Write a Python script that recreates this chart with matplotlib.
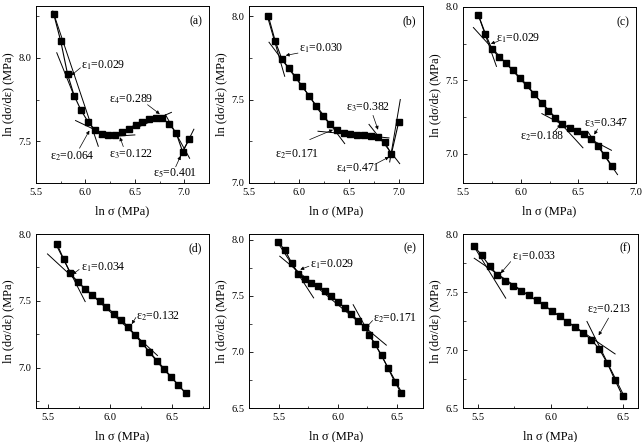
import numpy as np
import matplotlib
matplotlib.use('Agg')
import matplotlib.pyplot as plt
from matplotlib.ticker import MultipleLocator, AutoMinorLocator

plt.rcParams['font.family'] = ['Liberation Serif', 'DejaVu Serif']
plt.rcParams['mathtext.fontset'] = 'stix'

# ---- data ----
xa = [5.68, 5.75, 5.82, 5.886, 5.956, 6.027, 6.097, 6.164, 6.23, 6.30, 6.37, 6.436,
      6.507, 6.577, 6.644, 6.711, 6.779, 6.846, 6.916, 6.983, 7.05]
ya = [8.26, 8.10, 7.90, 7.773, 7.685, 7.616, 7.568, 7.542, 7.536, 7.538, 7.556, 7.576,
      7.60, 7.618, 7.633, 7.639, 7.637, 7.604, 7.552, 7.438, 7.512]

xb = [5.693, 5.763, 5.827, 5.897, 5.967, 6.033, 6.103, 6.17, 6.24, 6.31, 6.377, 6.447,
      6.513, 6.583, 6.65, 6.72, 6.787, 6.857, 6.923, 6.997]
yb = [8.00, 7.848, 7.745, 7.689, 7.635, 7.579, 7.521, 7.459, 7.401, 7.351, 7.319, 7.301,
      7.295, 7.289, 7.287, 7.281, 7.275, 7.245, 7.172, 7.365]

xc = [5.632, 5.695, 5.75, 5.81, 5.874, 5.934, 5.994, 6.057, 6.118, 6.181, 6.241, 6.302,
      6.362, 6.425, 6.486, 6.546, 6.609, 6.67, 6.73, 6.793]
yc = [7.948, 7.816, 7.714, 7.661, 7.618, 7.568, 7.518, 7.466, 7.407, 7.345, 7.293, 7.243,
      7.202, 7.177, 7.152, 7.132, 7.10, 7.055, 6.989, 6.914]

xd = [5.569, 5.623, 5.679, 5.739, 5.798, 5.854, 5.914, 5.97, 6.03, 6.089, 6.148, 6.205,
      6.261, 6.318, 6.377, 6.434, 6.493, 6.553, 6.612]
yd = [7.926, 7.814, 7.705, 7.641, 7.589, 7.545, 7.50, 7.455, 7.406, 7.356, 7.302, 7.245,
      7.183, 7.116, 7.05, 6.988, 6.931, 6.869, 6.812]

xe = [5.496, 5.555, 5.61, 5.667, 5.723, 5.776, 5.832, 5.888, 5.944, 6.003, 6.059, 6.115,
      6.171, 6.227, 6.26, 6.314, 6.37, 6.426, 6.482, 6.535]
ye = [7.979, 7.905, 7.792, 7.697, 7.653, 7.614, 7.585, 7.546, 7.501, 7.445, 7.392, 7.338,
      7.279, 7.223, 7.154, 7.071, 6.97, 6.852, 6.733, 6.635]

xf = [5.473, 5.527, 5.582, 5.636, 5.691, 5.743, 5.798, 5.85, 5.905, 5.957, 6.011, 6.064,
      6.116, 6.17, 6.225, 6.28, 6.334, 6.389, 6.443, 6.495]
yf = [7.90, 7.819, 7.725, 7.648, 7.599, 7.556, 7.51, 7.47, 7.427, 7.384, 7.338, 7.289,
      7.241, 7.195, 7.146, 7.089, 7.009, 6.888, 6.739, 6.602]

# fitted straight lines: (x0, y0, x1, y1)
lines_a = [(5.67, 8.28, 6.13, 7.47), (5.71, 8.03, 5.90, 7.75), (5.90, 7.624, 6.24, 7.528),
           (6.14, 7.524, 6.50, 7.538), (6.53, 7.584, 6.87, 7.673), (6.81, 7.659, 7.054, 7.398),
           (6.946, 7.392, 7.097, 7.572)]
lines_b = [(5.68, 8.006, 5.857, 7.639), (5.70, 7.843, 6.457, 7.236), (6.19, 7.31, 6.90, 7.27),
           (6.70, 7.351, 7.007, 7.116), (6.907, 7.126, 7.013, 7.50)]
lines_c = [(5.626, 7.959, 5.79, 7.595), (5.59, 7.86, 6.54, 7.04), (6.184, 7.273, 6.787, 7.023),
           (6.58, 7.152, 6.84, 6.857)]
lines_d = [(5.555, 7.933, 5.798, 7.495), (5.493, 7.851, 6.383, 7.092), (6.12, 7.33, 6.63, 6.79)]
lines_e = [(5.482, 7.991, 5.796, 7.481), (5.51, 7.852, 6.41, 7.06), (6.13, 7.42, 6.55, 6.62)]
lines_f = [(5.466, 7.911, 5.693, 7.447), (5.477, 7.791, 6.443, 6.966), (6.25, 7.246, 6.505, 6.602)]

# annotations: (text, text x, text y, arrow tail x, tail y, tip x, tip y)
notes_a = [('ε$_1$=0.029', 5.956, 7.954, 5.95, 7.94, 5.856, 7.894),
           ('ε$_2$=0.064', 5.638, 7.408, 5.94, 7.458, 6.04, 7.564),
           ('ε$_3$=0.122', 6.242, 7.424, 6.383, 7.468, 6.349, 7.524),
           ('ε$_4$=0.289', 6.242, 7.749, 6.628, 7.719, 6.752, 7.663),
           ('ε$_5$=0.401', 6.685, 7.307, 6.913, 7.347, 6.963, 7.412)]
notes_b = [('ε$_1$=0.030', 6.0, 7.804, 5.99, 7.778, 5.867, 7.764),
           ('ε$_2$=0.171', 5.757, 7.172, 6.107, 7.26, 6.34, 7.319),
           ('ε$_3$=0.382', 6.467, 7.451, 6.74, 7.405, 6.79, 7.319),
           ('ε$_4$=0.471', 6.367, 7.086, 6.773, 7.116, 6.9, 7.156)]
notes_c = [('ε$_1$=0.029', 5.782, 7.789, 5.805, 7.766, 5.741, 7.75),
           ('ε$_2$=0.188', 5.99, 7.118, 6.293, 7.15, 6.35, 7.2),
           ('ε$_3$=0.347', 6.552, 7.209, 6.667, 7.168, 6.638, 7.13)]
notes_d = [('ε$_1$=0.034', 5.763, 7.752, 5.749, 7.735, 5.695, 7.698),
           ('ε$_2$=0.132', 6.213, 7.389, 6.208, 7.376, 6.175, 7.327)]
notes_e = [('ε$_1$=0.029', 5.762, 7.777, 5.756, 7.763, 5.683, 7.733),
           ('ε$_2$=0.171', 6.294, 7.297, 6.294, 7.279, 6.238, 7.214)]
notes_f = [('ε$_1$=0.033', 5.739, 7.805, 5.727, 7.762, 5.659, 7.662),
           ('ε$_2$=0.213', 6.25, 7.347, 6.398, 7.275, 6.33, 7.126)]

panels = [
    # label, rect in px (left, top, right, bottom), xlim, ylim, x, y, lines, notes
    ('(a)', (36, 6, 209, 183), (5.5, 7.25), (7.25, 8.31), xa, ya, lines_a, notes_a),
    ('(b)', (249, 6, 423, 183), (5.5, 7.24), (7.0, 8.06), xb, yb, lines_b, notes_b),
    ('(c)', (463, 7, 636, 183), (5.5, 7.0), (6.8, 8.0), xc, yc, lines_c, notes_c),
    ('(d)', (36, 234, 209, 408), (5.4, 6.8), (6.7, 8.0), xd, yd, lines_d, notes_d),
    ('(e)', (249, 234, 423, 408), (5.25, 6.72), (6.5, 8.05), xe, ye, lines_e, notes_e),
    ('(f)', (463, 234, 638, 408), (5.4, 6.6), (6.5, 8.0), xf, yf, lines_f, notes_f),
]

W, H = 643, 442
fig = plt.figure(figsize=(W / 100, H / 100), dpi=100)

for lab, (l, t, r, b), xl, yl, x, y, segs, notes in panels:
    ax = fig.add_axes([l / W, 1 - b / H, (r - l) / W, (b - t) / H])
    ax.plot(x, y, '-s', color='black', lw=0.8, ms=4.4)
    for x0, y0, x1, y1 in segs:
        ax.plot([x0, x1], [y0, y1], color='black', lw=0.7)
    for txt, tx, ty, ax0, ay0, px, py in notes:
        ax.text(tx, ty, txt, fontsize=8.5, va='center', ha='left')
        ax.annotate('', xy=(px, py), xytext=(ax0, ay0),
                    arrowprops=dict(arrowstyle='-|>', color='black', lw=0.5,
                                    mutation_scale=5, shrinkA=0, shrinkB=0))
    ax.text(0.96, 0.95, lab, transform=ax.transAxes, ha='right', va='top', fontsize=8.5)
    ax.set_xlim(xl)
    ax.set_ylim(yl)
    ax.xaxis.set_major_locator(MultipleLocator(0.5))
    ax.yaxis.set_major_locator(MultipleLocator(0.5))
    ax.xaxis.set_minor_locator(AutoMinorLocator(2))
    ax.yaxis.set_minor_locator(AutoMinorLocator(2))
    ax.tick_params(which='both', direction='in', labelsize=7.5)
    ax.tick_params(which='major', length=3, width=0.6)
    ax.tick_params(which='minor', length=1.8, width=0.5)
    for s in ax.spines.values():
        s.set_linewidth(0.7)
    ax.set_xlabel(r'ln σ (MPa)', fontsize=9, labelpad=6)
    ax.set_ylabel(r'ln (dσ/dε) (MPa)', fontsize=9, labelpad=3)

fig.savefig('out.png', dpi=100)
